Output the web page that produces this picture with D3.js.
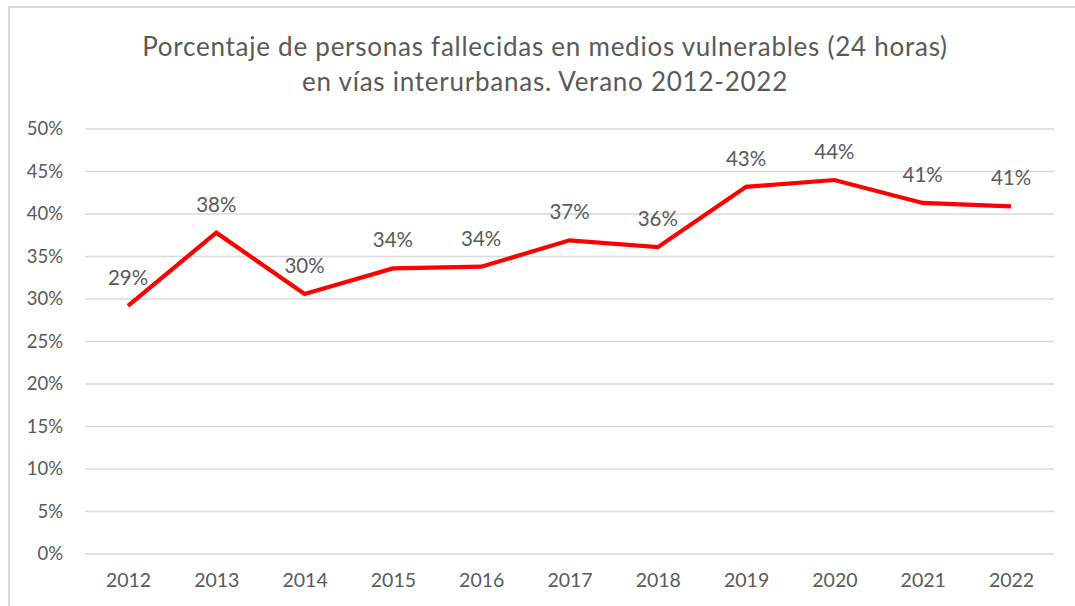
<!DOCTYPE html>
<html><head><meta charset="utf-8">
<script src="https://cdn.jsdelivr.net/npm/d3@7"></script>
<style>body{margin:0;background:#fff}svg{display:block}</style>
</head><body>
<svg id="c" width="1075" height="606"></svg>
<script>
const years = ["2012","2013","2014","2015","2016","2017","2018","2019","2020","2021","2022"];
const values = [29.2, 37.8, 30.6, 33.6, 33.8, 36.9, 36.1, 43.2, 44.0, 41.3, 40.9];
const labels = ["29%","38%","30%","34%","34%","37%","36%","43%","44%","41%","41%"];
const yTicks = [0,5,10,15,20,25,30,35,40,45,50];
const titleLines = ["Porcentaje de personas fallecidas en medios vulnerables (24 horas)", "en vías interurbanas. Verano 2012-2022"];

const svg = d3.select("#c");
const font = "Lato, 'Open Sans', sans-serif";
const grey = "#595959";

// frame
svg.append("rect").attr("x",9).attr("y",7).attr("width",1200).attr("height",700)
  .attr("fill","none").attr("stroke","#d9d9d9").attr("stroke-width",2);

const x = d3.scalePoint().domain(years).range([128, 1011]);
const y = d3.scaleLinear().domain([0,50]).range([554,129]);

// gridlines
svg.append("g").selectAll("line").data(yTicks).join("line")
  .attr("x1",85).attr("x2",1054)
  .attr("y1",d=>y(d)).attr("y2",d=>y(d))
  .attr("stroke","#d9d9d9").attr("stroke-width",1.3);

// y axis
const ya = svg.append("g").attr("transform","translate(85,0)")
  .call(d3.axisLeft(y).tickValues(yTicks).tickFormat(d=>d+"%").tickSize(0).tickPadding(22));
ya.select(".domain").remove();
ya.selectAll("text").attr("fill",grey).style("font-family",font).style("font-size","18.5px");

// x axis
const xa = svg.append("g").attr("transform","translate(0,554)")
  .call(d3.axisBottom(x).tickSize(0).tickPadding(19));
xa.select(".domain").remove();
xa.selectAll("text").attr("fill",grey).style("font-family",font).style("font-size","19.5px");

// line
const data = years.map((yr,i)=>({yr, v:values[i], l:labels[i]}));
svg.append("path").datum(data)
  .attr("fill","none").attr("stroke","#ff0000").attr("stroke-width",4.2)
  .attr("stroke-linejoin","miter")
  .attr("d", d3.line().x(d=>x(d.yr)).y(d=>y(d.v)));

// data labels
svg.append("g").selectAll("text").data(data).join("text")
  .attr("x",d=>x(d.yr)).attr("y",d=>y(d.v)-21)
  .attr("text-anchor","middle").attr("fill",grey)
  .style("font-family",font).style("font-size","20.5px")
  .text(d=>d.l);

// title
svg.append("g").selectAll("text").data(titleLines).join("text")
  .attr("x",545).attr("y",(d,i)=>56+i*35)
  .attr("text-anchor","middle").attr("fill",grey)
  .style("font-family",font).style("font-size","26px").style("letter-spacing","0.75px")
  .text(d=>d);
</script>
</body></html>
